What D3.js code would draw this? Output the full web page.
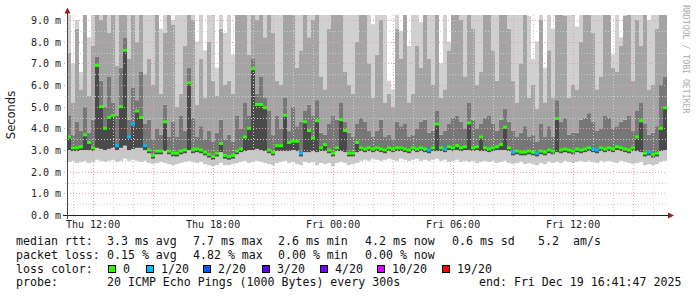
<!DOCTYPE html>
<html>
<head>
<meta charset="utf-8">
<script src="https://cdn.jsdelivr.net/npm/d3@7"></script>
<style>
body { margin: 0; background: #fff; }
text { font-family: "DejaVu Sans Mono", monospace; }
</style>
</head>
<body>
<div id="graph"></div>
<script>
// 12 minute steps, Thu 10:41:47 .. Fri 16:41:47
let rttMedian = [
  3.6, 3.1, 3.1, 3.15, 3.7, 3.35, 3.1, 6.9, 5.0, 4.0,
  4.5, 4.6, 3.2, 5.0, 7.6, 3.6, 4.2, 4.8, 4.5, 3.2,
  3.0, 2.75, 2.95, 2.95, 4.3, 2.95, 2.85, 2.85, 2.95, 3.0,
  6.1, 3.0, 3.05, 3.0, 2.9, 2.8, 2.7, 2.85, 3.3, 2.75,
  2.7, 2.75, 2.95, 3.05, 3.6, 4.0, 6.75, 5.1, 5.1, 4.95,
  3.0, 2.9, 3.2, 3.2, 4.6, 3.35, 3.4, 3.4, 2.85, 4.3,
  3.9, 3.55, 4.35, 3.1, 3.25, 3.0, 2.85, 3.1, 4.4, 3.9,
  2.85, 2.85, 3.35, 3.1, 3.05, 3.1, 3.05, 3.1, 3.05, 3.0,
  3.1, 3.05, 3.1, 3.1, 3.05, 3.0, 3.1, 3.05, 3.1, 3.05,
  3.0, 3.1, 4.2, 3.1, 3.05, 3.15, 3.1, 3.2, 3.1, 3.15,
  4.25, 3.1, 3.15, 3.6, 3.1, 3.05, 3.1, 3.15, 3.25, 4.05,
  3.1, 2.9, 2.95, 2.9, 2.9, 2.95, 2.9, 2.85, 2.95, 2.9,
  3.0, 2.95, 4.45, 3.0, 3.05, 3.0, 2.95, 3.05, 3.0, 3.05,
  3.1, 3.05, 3.0, 3.1, 3.05, 3.1, 3.05, 3.15, 3.1, 3.05,
  3.0, 3.1, 3.6, 4.35, 2.85, 2.9, 2.8, 2.85, 4.0, 4.95
];
let lossCount = [
  0, 0, 0, 0, 0, 0, 0, 0, 0, 0,
  0, 0, 1, 0, 0, 1, 1, 0, 0, 1,
  0, 0, 0, 0, 0, 0, 0, 0, 0, 0,
  0, 0, 0, 0, 0, 0, 0, 0, 0, 0,
  0, 0, 0, 0, 0, 0, 0, 0, 0, 0,
  0, 0, 0, 0, 0, 0, 0, 0, 1, 0,
  0, 0, 0, 0, 0, 0, 0, 0, 0, 0,
  0, 0, 0, 0, 0, 0, 0, 0, 0, 0,
  0, 0, 0, 0, 0, 0, 0, 0, 0, 0,
  1, 0, 0, 0, 1, 0, 0, 0, 0, 0,
  0, 0, 0, 0, 0, 0, 0, 0, 0, 0,
  0, 1, 0, 0, 0, 0, 0, 1, 0, 0,
  0, 0, 0, 0, 0, 0, 0, 0, 0, 0,
  0, 1, 1, 0, 0, 0, 0, 0, 0, 0,
  0, 0, 0, 0, 0, 1, 0, 0, 0, 0
];
// smoke: lowest ping, 5th, 15th, 18th, highest ping (ms)
let rttMin = [
  2.45, 2.5, 2.4, 2.45, 2.5, 2.4, 2.45, 2.55, 2.5, 2.45,
  2.5, 2.55, 2.45, 2.5, 2.6, 2.5, 2.55, 2.5, 2.45, 2.5,
  2.4, 2.35, 2.4, 2.45, 2.4, 2.35, 2.3, 2.35, 2.4, 2.45,
  2.5, 2.45, 2.4, 2.45, 2.35, 2.3, 2.25, 2.3, 2.4, 2.3,
  2.3, 2.35, 2.4, 2.45, 2.5, 2.4, 2.45, 2.5, 2.45, 2.4,
  2.35, 2.3, 2.4, 2.45, 2.5, 2.4, 2.45, 2.35, 2.3, 2.45,
  2.4, 2.45, 2.3, 2.4, 2.35, 2.4, 2.25, 2.4, 2.45, 2.4,
  2.3, 2.35, 2.4, 2.5, 2.55, 2.5, 2.6, 2.55, 2.5, 2.55,
  2.6, 2.55, 2.5, 2.6, 2.55, 2.5, 2.55, 2.6, 2.5, 2.55,
  2.5, 2.55, 2.6, 2.5, 2.55, 2.45, 2.5, 2.55, 2.45, 2.5,
  2.45, 2.5, 2.4, 2.45, 2.5, 2.45, 2.5, 2.4, 2.45, 2.5,
  2.4, 2.35, 2.4, 2.45, 2.35, 2.4, 2.35, 2.3, 2.4, 2.35,
  2.45, 2.4, 2.45, 2.4, 2.5, 2.45, 2.4, 2.45, 2.5, 2.45,
  2.5, 2.45, 2.4, 2.5, 2.45, 2.5, 2.45, 2.4, 2.5, 2.45,
  2.4, 2.35, 2.4, 2.45, 2.3, 2.35, 2.3, 2.35, 2.45, 2.5
];
let rttLow = [
  3.0, 2.95, 2.95, 3.0, 3.0, 3.0, 2.95, 3.1, 3.05, 3.0,
  3.05, 3.1, 3.0, 3.1, 3.2, 3.0, 3.05, 3.1, 3.1, 3.0,
  2.85, 2.6, 2.8, 2.8, 2.95, 2.8, 2.7, 2.7, 2.8, 2.85,
  3.0, 2.85, 2.9, 2.85, 2.75, 2.65, 2.55, 2.7, 2.9, 2.6,
  2.55, 2.6, 2.8, 2.9, 2.95, 3.0, 3.0, 3.05, 3.0, 2.95,
  2.85, 2.75, 2.95, 2.95, 2.95, 2.95, 3.0, 2.95, 2.7, 2.9,
  2.9, 2.95, 2.9, 2.95, 2.95, 2.85, 2.7, 2.95, 2.95, 2.9,
  2.7, 2.7, 2.9, 2.95, 2.9, 2.95, 2.9, 2.95, 2.9, 2.85,
  2.95, 2.9, 2.95, 2.95, 2.9, 2.85, 2.95, 2.9, 2.95, 2.9,
  2.85, 2.95, 2.95, 2.95, 2.9, 3.0, 2.95, 3.0, 2.95, 3.0,
  3.0, 2.95, 3.0, 2.95, 2.95, 2.9, 2.95, 3.0, 3.0, 3.0,
  2.95, 2.75, 2.8, 2.75, 2.75, 2.8, 2.75, 2.7, 2.8, 2.75,
  2.85, 2.8, 2.9, 2.85, 2.9, 2.85, 2.8, 2.9, 2.85, 2.9,
  2.95, 2.9, 2.85, 2.95, 2.9, 2.95, 2.9, 3.0, 2.95, 2.9,
  2.85, 2.95, 2.95, 2.9, 2.7, 2.75, 2.65, 2.7, 2.95, 3.0
];
let rttHigh = [
  4.6, 3.7, 4.3, 3.9, 5.0, 3.8, 4.4, 7.3, 6.2, 5.0,
  6.4, 5.2, 4.6, 6.8, 8.2, 4.4, 5.9, 5.3, 6.6, 4.2,
  4.4, 3.5, 4.0, 3.7, 5.1, 3.6, 4.3, 3.6, 4.6, 3.9,
  6.8, 4.5, 3.6, 4.1, 3.5, 3.9, 3.4, 3.8, 4.4, 3.5,
  3.7, 3.4, 4.6, 4.0, 5.2, 4.6, 7.2, 5.6, 6.4, 5.4,
  4.8, 3.7, 4.6, 4.0, 5.4, 3.9, 5.0, 4.1, 4.3, 4.8,
  5.1, 4.6, 5.3, 3.8, 3.7, 4.2, 4.6, 4.4, 5.2, 4.3,
  3.8, 3.6, 4.2, 4.5, 4.3, 3.9, 3.6, 3.9, 4.4, 3.6,
  3.7, 3.5, 4.3, 4.1, 4.2, 3.6, 3.7, 4.0, 4.3, 4.4,
  3.8, 3.9, 4.8, 3.7, 3.9, 4.2, 4.5, 4.6, 4.3, 4.0,
  5.2, 4.4, 4.0, 4.2, 4.5, 4.6, 4.2, 3.9, 4.4, 4.9,
  4.3, 3.9, 3.6, 3.8, 4.1, 3.6, 3.7, 3.4, 4.2, 3.6,
  4.1, 3.6, 5.3, 4.3, 4.5, 3.7, 3.8, 3.8, 4.4, 4.5,
  4.7, 4.3, 3.9, 4.0, 4.6, 4.5, 4.0, 4.1, 4.3, 4.4,
  4.6, 3.9, 4.8, 5.2, 4.2, 3.7, 3.8, 4.1, 6.0, 6.4
];
let rttUpper = [
  7.5, 5.2, 8.6, 5.8, 12, 5.5, 7.8, 12, 9.0, 12,
  8.4, 12, 6.9, 12, 12, 7.2, 12, 8.0, 12, 6.5,
  7.2, 6.0, 12, 5.6, 8.4, 9.6, 8.8, 5.0, 5.6, 7.8,
  12, 9.0, 5.1, 7.2, 5.4, 8.0, 6.2, 5.5, 8.6, 6.0,
  6.2, 5.6, 9.8, 12, 12, 7.4, 12, 9.0, 12, 8.2,
  12, 8.4, 6.2, 6.0, 12, 12, 9.4, 6.8, 7.6, 12,
  8.2, 9.0, 12, 6.4, 5.8, 8.6, 12, 12, 9.6, 6.6,
  6.0, 5.6, 8.0, 12, 12, 7.0, 5.4, 7.4, 9.0, 5.2,
  5.6, 5.0, 8.6, 7.2, 12, 5.2, 5.6, 7.8, 6.8, 9.5,
  7.2, 6.0, 12, 5.4, 5.8, 7.6, 12, 12, 9.0, 6.4,
  12, 8.6, 6.0, 6.6, 12, 12, 7.6, 6.2, 9.4, 12,
  8.6, 6.2, 5.2, 7.0, 12, 5.4, 6.0, 4.9, 9.0, 5.2,
  7.6, 5.4, 12, 12, 9.2, 5.4, 6.0, 5.8, 8.0, 12,
  12, 8.4, 5.8, 6.4, 12, 12, 6.8, 6.6, 7.8, 9.2,
  12, 6.2, 9.0, 7.8, 12, 5.8, 6.0, 8.6, 12, 12
];
let rttMax = [
  12, 7.0, 9.0, 6.6, 12, 8.2, 12, 12, 12, 12,
  12, 12, 12, 12, 12, 12, 12, 12, 12, 12,
  12, 9.5, 12, 8.6, 12, 12, 9.0, 12, 12, 12,
  12, 12, 8.0, 12, 7.6, 12, 9.8, 6.8, 12, 8.4,
  12, 7.4, 12, 12, 12, 12, 12, 12, 12, 12,
  12, 12, 12, 12, 12, 12, 12, 12, 12, 12,
  12, 12, 12, 12, 12, 12, 12, 12, 12, 12,
  12, 12, 12, 12, 12, 12, 8.8, 12, 12, 9.4,
  6.2, 5.8, 12, 8.5, 12, 7.8, 12, 12, 8.9, 12,
  12, 12, 12, 7.0, 12, 8.0, 12, 12, 12, 12,
  12, 12, 12, 12, 12, 12, 12, 12, 12, 12,
  12, 12, 12, 12, 12, 9.2, 7.2, 8.0, 12, 6.8,
  12, 8.6, 12, 12, 12, 12, 12, 8.7, 12, 12,
  12, 12, 12, 12, 12, 12, 7.4, 12, 8.2, 12,
  12, 12, 12, 12, 12, 9.0, 12, 12, 12, 12
];

let yTicks = [0, 1, 2, 3, 4, 5, 6, 7, 8, 9];
let lossLegend = ["0", "1/20", "2/20", "3/20", "4/20", "10/20", "19/20"];
let lossColors = ["#26ff00", "#00b8ff", "#0059ff", "#5e00ff", "#7e00ff", "#dd00ff", "#ff0000"];
let rttStats = ["3.3 ms avg", "7.7 ms max", "2.6 ms min", "4.2 ms now", "0.6 ms sd", "5.2", "am/s"];
let lossStats = ["0.15 % avg", "4.82 % max", "0.00 % min", "0.00 % now"];

const width = 697, height = 297;
const plot = {left: 67, right: 667, top: 15, bottom: 215};
const start = new Date(2025, 11, 18, 10, 41, 47);
const end = new Date(2025, 11, 19, 16, 41, 47);
const stepMin = 12;

let svg = d3.select("#graph")
    .append("svg")
    .attr("width", width)
    .attr("height", height);

let x = d3.scaleTime().domain([start, end]).range([plot.left, plot.right]);
let y = d3.scaleLinear().domain([0, 9]).range([215, 20]);
let lossColor = d3.scaleThreshold().domain([1, 2, 3, 4, 10, 19]).range(lossColors);

svg.append("clipPath").attr("id", "clip")
    .append("rect")
    .attr("x", plot.left).attr("y", plot.top)
    .attr("width", plot.right - plot.left).attr("height", plot.bottom - plot.top);

let steps = d3.range(rttMedian.length);
function t0(i) { return d3.timeMinute.offset(start, i * stepMin); }
function t1(i) { return d3.timeMinute.offset(start, (i + 1) * stepMin); }

// smoke bands, outer ones lighter
let bands = [
    {lo: rttMin, hi: rttLow, color: "#c8c8c8"},
    {lo: rttLow, hi: rttMedian, color: "#4a4a4a"},
    {lo: rttMedian, hi: rttHigh, color: "#777777"},
    {lo: rttHigh, hi: rttUpper, color: "#a4a4a4"},
    {lo: rttUpper, hi: rttMax, color: "#d0d0d0"}
];

let smoke = svg.append("g").attr("clip-path", "url(#clip)");
bands.forEach(function(b) {
    smoke.append("g").selectAll("rect")
        .data(steps)
        .enter()
        .append("rect")
        .attr("x", function(i) { return x(t0(i)); })
        .attr("width", function(i) { return x(t1(i)) - x(t0(i)); })
        .attr("y", function(i) { return y(b.hi[i]); })
        .attr("height", function(i) { return Math.max(0, y(b.lo[i]) - y(b.hi[i])); })
        .attr("fill", b.color);
});

// grid
let grid = svg.append("g");
let hours = d3.timeHour.range(start, end);
grid.selectAll(".vgrid")
    .data(hours)
    .enter()
    .append("line")
    .attr("x1", function(d) { return Math.round(x(d)) + 0.5; })
    .attr("x2", function(d) { return Math.round(x(d)) + 0.5; })
    .attr("y1", plot.top)
    .attr("y2", plot.bottom + 3)
    .attr("stroke", function(d) { return d.getHours() % 3 == 0 ? "#e8a0a0" : "#cfcfcf"; })
    .attr("stroke-dasharray", "1,2");

let halfTicks = d3.range(0.5, 9.5, 1);
grid.selectAll(".hminor")
    .data(halfTicks)
    .enter()
    .append("line")
    .attr("x1", plot.left - 2)
    .attr("x2", plot.right)
    .attr("y1", function(d) { return Math.round(y(d)) + 0.5; })
    .attr("y2", function(d) { return Math.round(y(d)) + 0.5; })
    .attr("stroke", "#cfcfcf")
    .attr("stroke-dasharray", "1,2");

grid.selectAll(".hmajor")
    .data(yTicks.slice(1))
    .enter()
    .append("line")
    .attr("x1", plot.left - 3)
    .attr("x2", plot.right)
    .attr("y1", function(d) { return Math.round(y(d)) + 0.5; })
    .attr("y2", function(d) { return Math.round(y(d)) + 0.5; })
    .attr("stroke", "#e8a0a0")
    .attr("stroke-dasharray", "1,2");

// median, coloured by loss
svg.append("g").attr("clip-path", "url(#clip)")
    .selectAll("rect")
    .data(steps)
    .enter()
    .append("rect")
    .attr("x", function(i) { return x(t0(i)); })
    .attr("width", function(i) { return x(t1(i)) - x(t0(i)); })
    .attr("y", function(i) { return y(rttMedian[i]) - 1.5; })
    .attr("height", 3)
    .attr("fill", function(i) { return lossColor(lossCount[i]); });

// axes
svg.append("line")
    .attr("x1", 63).attr("x2", 669)
    .attr("y1", 215.5).attr("y2", 215.5)
    .attr("stroke", "#222");
svg.append("line")
    .attr("x1", 67.5).attr("x2", 67.5)
    .attr("y1", 219).attr("y2", 11)
    .attr("stroke", "#444");
svg.append("path")
    .attr("d", "M668,212.5 L674,215.5 L668,218.5 Z")
    .attr("fill", "#9b1b1b");
svg.append("path")
    .attr("d", "M64.5,13.5 L67.5,7.5 L70.5,13.5 Z")
    .attr("fill", "#9b1b1b");

svg.append("g").selectAll("text")
    .data(yTicks)
    .enter()
    .append("text")
    .attr("x", 61)
    .attr("y", function(d) { return y(d) + 4; })
    .style("text-anchor", "end")
    .style("font-size", "10px")
    .attr("fill", "#222")
    .text(function(d) { return d3.format(".1f")(d) + " m"; });

let labelTimes = hours.filter(function(d) { return d.getHours() % 6 == 0; });
svg.append("g").selectAll("text")
    .data(labelTimes)
    .enter()
    .append("text")
    .attr("x", function(d) { return x(d); })
    .attr("y", 228)
    .style("text-anchor", "middle")
    .style("font-size", "10px")
    .attr("fill", "#222")
    .text(d3.timeFormat("%a %H:%M"));

svg.append("text")
    .attr("transform", "translate(15,115) rotate(-90)")
    .style("text-anchor", "middle")
    .style("font-family", "DejaVu Sans")
    .style("font-size", "11.5px")
    .attr("fill", "#222")
    .text("Seconds");

svg.append("text")
    .attr("transform", "translate(683,5) rotate(90)")
    .style("font-size", "8.2px")
    .attr("fill", "#aaaaaa")
    .text("RRDTOOL / TOBI OETIKER");

// legend
let legend = svg.append("g").style("font-size", "11.6px").attr("fill", "#111");
let statX = [107, 193, 278, 365, 452, 538, 573];
legend.append("text").attr("x", 16).attr("y", 245.3).text("median rtt:");
legend.selectAll(".rtt").data(rttStats).enter().append("text")
    .attr("x", function(d, i) { return statX[i]; })
    .attr("y", 245.3)
    .text(function(d) { return d; });

legend.append("text").attr("x", 16).attr("y", 258.8).text("packet loss:");
legend.selectAll(".loss").data(lossStats).enter().append("text")
    .attr("x", function(d, i) { return statX[i]; })
    .attr("y", 258.8)
    .text(function(d) { return d; });

legend.append("text").attr("x", 16).attr("y", 272.7).text("loss color:");
let boxX = [108, 146, 203, 262, 320, 377, 442];
legend.selectAll(".box").data(lossLegend).enter().append("rect")
    .attr("x", function(d, i) { return boxX[i] + 0.5; })
    .attr("y", 265.5)
    .attr("width", 7)
    .attr("height", 7)
    .attr("fill", function(d, i) { return lossColors[i]; })
    .attr("stroke", "#000");
legend.selectAll(".boxlabel").data(lossLegend).enter().append("text")
    .attr("x", function(d, i) { return boxX[i] + 15; })
    .attr("y", 272.7)
    .text(function(d) { return d; });

legend.append("text").attr("x", 16).attr("y", 286.2).text("probe:");
legend.append("text").attr("x", 107).attr("y", 286.2).text("20 ICMP Echo Pings (1000 Bytes) every 300s");
legend.append("text").attr("x", 479).attr("y", 286.2).text("end: Fri Dec 19 16:41:47 2025");
</script>
</body>
</html>
